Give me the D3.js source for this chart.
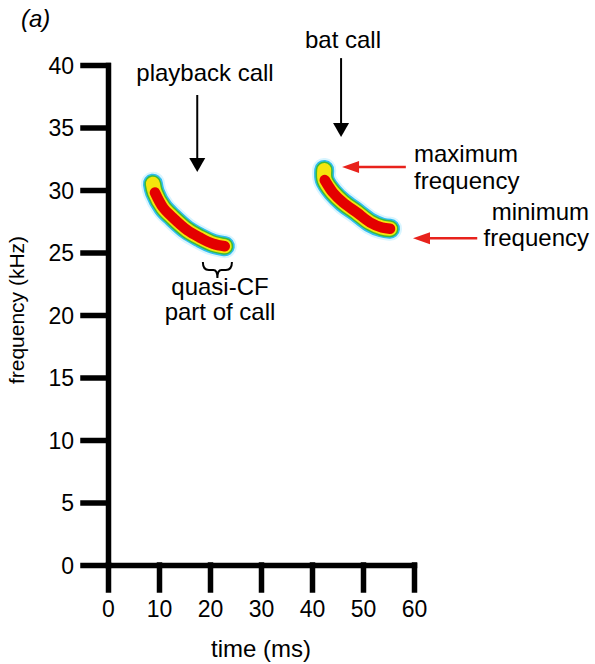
<!DOCTYPE html>
<html>
<head>
<meta charset="utf-8">
<script src="https://cdnjs.cloudflare.com/ajax/libs/d3/7.8.5/d3.min.js"></script>
<style>
  body { margin: 0; background: #fff; }
  svg { display: block; font-family: "Liberation Sans", Arial, sans-serif; }
</style>
</head>
<body>
<div id="chart"></div>
<script>
// ridge of each call in the spectrogram (time ms, frequency kHz)
var playbackTime = [8.8, 9.2, 10.8, 12.7, 15.5, 18.0, 20.6, 22.9];
var playbackFreq = [30.5, 29.8, 28.6, 27.8, 26.8, 26.2, 25.7, 25.5];
var batTime = [42.4, 42.5, 44.1, 46.1, 48.8, 51.4, 53.7, 55.3];
var batFreq = [31.6, 30.8, 29.8, 29.0, 28.2, 27.4, 27.0, 26.9];

var xTicks = [0, 10, 20, 30, 40, 50, 60];
var yTicks = [0, 5, 10, 15, 20, 25, 30, 35, 40];

var width = 595, height = 664;

var svg = d3.select("#chart").append("svg")
    .attr("width", width)
    .attr("height", height);

var x = d3.scaleLinear().domain([0, 60]).range([108, 414]);
var y = d3.scaleLinear().domain([0, 40]).range([565, 65]);

// axes
var gx = svg.append("g")
    .attr("transform", "translate(0," + y(0) + ")")
    .call(d3.axisBottom(x).tickValues(xTicks).tickSize(25).tickSizeOuter(0).tickPadding(11));
var gy = svg.append("g")
    .attr("transform", "translate(" + x(0) + ",0)")
    .call(d3.axisLeft(y).tickValues(yTicks).tickSize(25).tickSizeOuter(0).tickPadding(9));

[gx, gy].forEach(function(g) {
  g.select(".domain")
    .attr("stroke", "#000")
    .attr("stroke-width", 5.5)
    .attr("stroke-linecap", "square");
  g.selectAll(".tick line")
    .attr("stroke", "#000")
    .attr("stroke-width", 5.5)
    .attr("stroke-linecap", "square");
  g.selectAll(".tick text")
    .attr("fill", "#000")
    .style("font-size", "23px")
    .style("font-family", "'Liberation Sans', Arial, sans-serif");
});
gy.selectAll(".tick text").attr("dy", "0.35em");

// spectrogram blobs
var defs = svg.append("defs");
defs.append("filter").attr("id", "soft")
  .attr("x", "-20%").attr("y", "-20%").attr("width", "140%").attr("height", "140%")
  .append("feGaussianBlur").attr("stdDeviation", 0.7);

var line = d3.line()
    .x(function(d) { return x(d[0]); })
    .y(function(d) { return y(d[1]); })
    .curve(d3.curveCatmullRom);

var layers = [
  {w: 24, c: "#d8f5ff", from: 0},
  {w: 20, c: "#2fbdf0", from: 0},
  {w: 17, c: "#3cb93a", from: 0},
  {w: 14, c: "#f4e60a", from: 0},
  {w: 10.5, c: "#e40000", from: 1}
];

function drawCall(times, freqs) {
  var pts = d3.zip(times, freqs);
  var g = svg.append("g").attr("filter", "url(#soft)");
  layers.forEach(function(l) {
    g.append("path")
      .attr("d", line(pts.slice(l.from)))
      .attr("fill", "none")
      .attr("stroke", l.c)
      .attr("stroke-width", l.w)
      .attr("stroke-linecap", "round")
      .attr("stroke-linejoin", "round");
  });
}
drawCall(playbackTime, playbackFreq);
drawCall(batTime, batFreq);

// arrows
function arrowDown(xp, y0, y1) {
  svg.append("line")
    .attr("x1", xp).attr("x2", xp).attr("y1", y0).attr("y2", y1 - 12)
    .attr("stroke", "#000").attr("stroke-width", 2);
  svg.append("path")
    .attr("d", "M" + (xp - 8) + "," + (y1 - 14) + "L" + (xp + 8) + "," + (y1 - 14) + "L" + xp + "," + y1 + "Z")
    .attr("fill", "#000");
}
function arrowLeft(x0, x1, yp) {
  svg.append("line")
    .attr("x1", x0).attr("x2", x1 + 14).attr("y1", yp).attr("y2", yp)
    .attr("stroke", "#e8221c").attr("stroke-width", 2.5);
  svg.append("path")
    .attr("d", "M" + (x1 + 17) + "," + (yp - 6) + "L" + (x1 + 17) + "," + (yp + 6) + "L" + x1 + "," + yp + "Z")
    .attr("fill", "#e8221c");
}
arrowDown(x(17.5), y(37.6), y(31.45));
arrowDown(x(45.7), y(40.55), y(34.25));
arrowLeft(x(58.4), x(45.9), y(31.85));
arrowLeft(x(72.4), x(59.8), y(26.15));

// brace under the quasi-CF part
var bx0 = x(18.6), bx1 = x(24.3), bm = (bx0 + bx1) / 2;
var bt = 262, bh = 270, bb = 278;
svg.append("path")
  .attr("d", "M" + bx0 + "," + bt + "Q" + bx0 + "," + bh + " " + (bx0 + 6) + "," + bh +
    "L" + (bm - 4) + "," + bh + "Q" + bm + "," + bh + " " + bm + "," + bb +
    "Q" + bm + "," + bh + " " + (bm + 4) + "," + bh +
    "L" + (bx1 - 6) + "," + bh + "Q" + bx1 + "," + bh + " " + bx1 + "," + bt)
  .attr("fill", "none").attr("stroke", "#000").attr("stroke-width", 2);

// text
function label(t, xp, yp, anchor, size) {
  return svg.append("text")
    .attr("x", xp).attr("y", yp)
    .attr("text-anchor", anchor)
    .style("font-size", (size || 24) + "px")
    .attr("fill", "#000")
    .text(t);
}
label("(a)", 21, 27, "start", 24).style("font-style", "italic");
label("playback call", 205, 81, "middle");
label("bat call", 343, 48, "middle");
label("maximum", 414, 162, "start");
label("frequency", 414, 189, "start");
label("minimum", 589, 220, "end");
label("frequency", 589, 246, "end");
label("quasi-CF", 220, 295, "middle");
label("part of call", 220, 320, "middle");
label("time (ms)", 261, 657, "middle");

svg.append("text")
  .attr("transform", "translate(24,310) rotate(-90)")
  .attr("text-anchor", "middle")
  .style("font-size", "21px")
  .text("frequency (kHz)");
</script>
</body>
</html>
